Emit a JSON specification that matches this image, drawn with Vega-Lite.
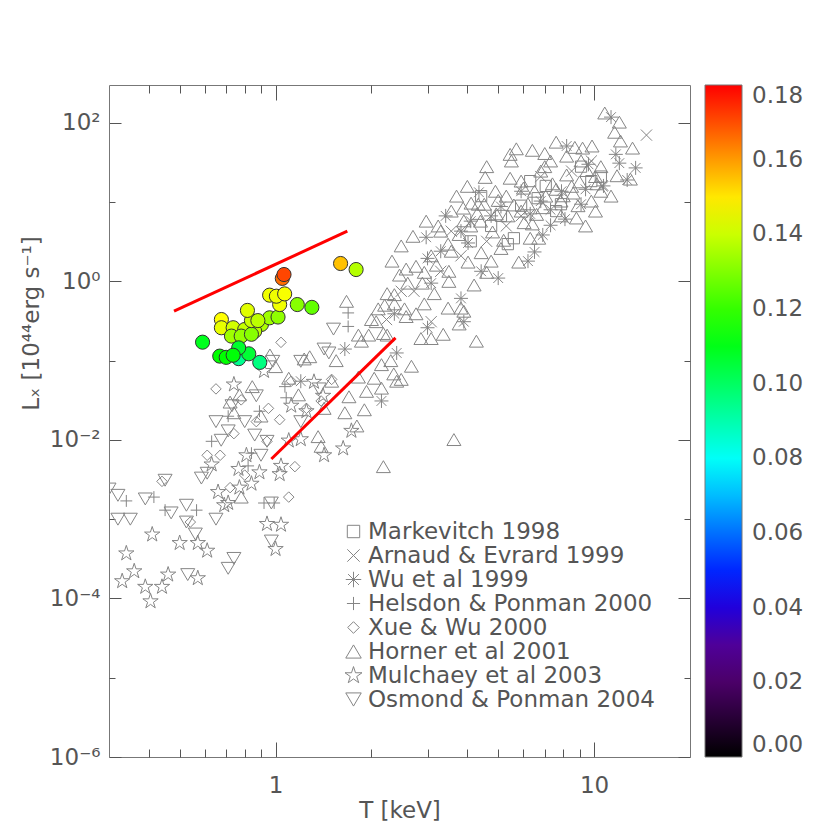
{
  "$schema": "https://vega.github.io/schema/vega-lite/v6.json",
  "padding": {"top": 84, "left": 20, "right": 0, "bottom": 0},
  "width": 581,
  "height": 672,
  "config": {
    "font": "DejaVu Sans",
    "view": {"stroke": null},
    "axis": {"grid": false, "ticks": true, "tickWidth": 1, "labelColor": "#555", "titleColor": "#555", "tickColor": "#555", "domainColor": "#777", "labelFontSize": 23, "titleFontSize": 23, "titleFontWeight": "normal", "labelFlush": false, "labelOverlap": false}
  },
  "datasets": {
    "obs": [
      {"s":"Horner et al 2001","T":10.8,"L":133},{"s":"Horner et al 2001","T":12.0,"L":102},{"s":"Horner et al 2001","T":11.6,"L":76},{"s":"Horner et al 2001","T":13.2,"L":48},{"s":"Horner et al 2001","T":13.0,"L":19.5},{"s":"Horner et al 2001","T":11.8,"L":21.5},{"s":"Horner et al 2001","T":7.6,"L":57},{"s":"Horner et al 2001","T":6.4,"L":45},{"s":"Horner et al 2001","T":7.0,"L":41},{"s":"Horner et al 2001","T":8.7,"L":49},
      {"s":"Horner et al 2001","T":9.2,"L":48},{"s":"Horner et al 2001","T":9.85,"L":51},{"s":"Horner et al 2001","T":5.45,"L":40},{"s":"Horner et al 2001","T":4.55,"L":20.5},{"s":"Horner et al 2001","T":5.45,"L":20},{"s":"Horner et al 2001","T":10.1,"L":7.7},{"s":"Horner et al 2001","T":9.4,"L":5.0},{"s":"Horner et al 2001","T":8.8,"L":6.3},{"s":"Horner et al 2001","T":6.4,"L":5.3},{"s":"Horner et al 2001","T":5.8,"L":1.75},
      {"s":"Horner et al 2001","T":3.56,"L":7.7},{"s":"Horner et al 2001","T":2.32,"L":1.8},{"s":"Horner et al 2001","T":2.57,"L":1.43},{"s":"Horner et al 2001","T":4.27,"L":0.176},{"s":"Horner et al 2001","T":3.08,"L":0.19},{"s":"Horner et al 2001","T":2.86,"L":0.19},{"s":"Horner et al 2001","T":3.36,"L":0.215},{"s":"Horner et al 2001","T":2.76,"L":0.39},{"s":"Horner et al 2001","T":2.93,"L":0.52},{"s":"Horner et al 2001","T":2.24,"L":0.70},
      {"s":"Horner et al 2001","T":2.36,"L":0.68},{"s":"Horner et al 2001","T":2.54,"L":0.45},{"s":"Horner et al 2001","T":2.18,"L":0.22},{"s":"Horner et al 2001","T":2.24,"L":0.21},{"s":"Horner et al 2001","T":2.48,"L":0.058},{"s":"Horner et al 2001","T":2.35,"L":0.068},{"s":"Horner et al 2001","T":2.15,"L":0.089},{"s":"Horner et al 2001","T":3.77,"L":0.29},{"s":"Horner et al 2001","T":3.9,"L":0.42},{"s":"Horner et al 2001","T":3.82,"L":0.46},
      {"s":"Horner et al 2001","T":3.48,"L":0.46},{"s":"Horner et al 2001","T":3.15,"L":0.70},{"s":"Horner et al 2001","T":2.89,"L":0.95},{"s":"Horner et al 2001","T":2.93,"L":1.3},{"s":"Horner et al 2001","T":3.5,"L":1.34},{"s":"Horner et al 2001","T":4.02,"L":1.75},{"s":"Horner et al 2001","T":4.42,"L":2.3},{"s":"Horner et al 2001","T":4.75,"L":1.8},{"s":"Horner et al 2001","T":3.48,"L":2.95},{"s":"Horner et al 2001","T":3.77,"L":3.9},
      {"s":"Horner et al 2001","T":3.88,"L":8.4},{"s":"Horner et al 2001","T":4.11,"L":9.7},{"s":"Horner et al 2001","T":4.33,"L":9.4},{"s":"Horner et al 2001","T":4.52,"L":9.4},{"s":"Horner et al 2001","T":4.93,"L":7.1},{"s":"Horner et al 2001","T":5.36,"L":6.7},{"s":"Horner et al 2001","T":5.9,"L":7.7},{"s":"Horner et al 2001","T":6.03,"L":5.5},{"s":"Horner et al 2001","T":6.3,"L":3.5},{"s":"Horner et al 2001","T":6.7,"L":3.5},
      {"s":"Horner et al 2001","T":6.5,"L":13.7},{"s":"Horner et al 2001","T":7.05,"L":11.9},{"s":"Horner et al 2001","T":7.6,"L":14.5},{"s":"Horner et al 2001","T":7.87,"L":10.3},{"s":"Horner et al 2001","T":8.2,"L":22},{"s":"Horner et al 2001","T":8.5,"L":15.8},{"s":"Horner et al 2001","T":9.8,"L":10.3},{"s":"Horner et al 2001","T":10.5,"L":13.7},{"s":"Horner et al 2001","T":11.3,"L":11.9},{"s":"Horner et al 2001","T":6.8,"L":24.6},
      {"s":"Horner et al 2001","T":5.9,"L":18.4},{"s":"Horner et al 2001","T":5.3,"L":11.9},{"s":"Horner et al 2001","T":4.9,"L":13.7},{"s":"Horner et al 2001","T":4.4,"L":5.75},{"s":"Horner et al 2001","T":4.1,"L":5.0},{"s":"Horner et al 2001","T":3.3,"L":4.3},{"s":"Horner et al 2001","T":3.56,"L":2.4},{"s":"Horner et al 2001","T":3.08,"L":2.1},{"s":"Horner et al 2001","T":2.76,"L":1.55},{"s":"Horner et al 2001","T":2.48,"L":2.8},
      {"s":"Horner et al 2001","T":2.7,"L":3.7},{"s":"Horner et al 2001","T":2.97,"L":5.75},{"s":"Horner et al 2001","T":3.24,"L":5.0},{"s":"Horner et al 2001","T":3.7,"L":11.9},{"s":"Horner et al 2001","T":4.0,"L":15.8},{"s":"Horner et al 2001","T":4.6,"L":28},{"s":"Horner et al 2001","T":5.5,"L":33},{"s":"Horner et al 2001","T":5.7,"L":47},{"s":"Horner et al 2001","T":7.3,"L":33},{"s":"Horner et al 2001","T":8.2,"L":38},
      {"s":"Horner et al 2001","T":9.1,"L":33},{"s":"Horner et al 2001","T":10.5,"L":28},{"s":"Horner et al 2001","T":12.1,"L":59},{"s":"Horner et al 2001","T":10.1,"L":21},{"s":"Horner et al 2001","T":8.6,"L":13},{"s":"Horner et al 2001","T":7.87,"L":6.7},{"s":"Horner et al 2001","T":6.2,"L":9.5},{"s":"Horner et al 2001","T":6.9,"L":8.5},{"s":"Horner et al 2001","T":7.4,"L":17},{"s":"Horner et al 2001","T":8.0,"L":12},
      {"s":"Horner et al 2001","T":9.0,"L":18},{"s":"Horner et al 2001","T":9.5,"L":25},{"s":"Horner et al 2001","T":7.0,"L":28},{"s":"Horner et al 2001","T":8.9,"L":9},{"s":"Horner et al 2001","T":6.0,"L":15},{"s":"Horner et al 2001","T":10.2,"L":17},{"s":"Horner et al 2001","T":6.6,"L":7},{"s":"Horner et al 2001","T":5.6,"L":9.2},{"s":"Horner et al 2001","T":5.0,"L":10.5},{"s":"Horner et al 2001","T":4.3,"L":7.2},
      {"s":"Horner et al 2001","T":3.9,"L":5.8},{"s":"Horner et al 2001","T":4.8,"L":4.2},{"s":"Horner et al 2001","T":5.2,"L":3.3},{"s":"Horner et al 2001","T":3.5,"L":1.0},{"s":"Horner et al 2001","T":3.2,"L":1.6},{"s":"Horner et al 2001","T":2.6,"L":0.95},{"s":"Horner et al 2001","T":2.45,"L":1.2},{"s":"Horner et al 2001","T":2.1,"L":0.45},{"s":"Horner et al 2001","T":2.0,"L":0.33},{"s":"Horner et al 2001","T":4.2,"L":0.9},
      {"s":"Horner et al 2001","T":4.6,"L":1.3},{"s":"Horner et al 2001","T":5.1,"L":2.6},{"s":"Horner et al 2001","T":0.845,"L":0.047},{"s":"Horner et al 2001","T":0.77,"L":0.037},{"s":"Horner et al 2001","T":0.74,"L":0.022},{"s":"Horner et al 2001","T":0.96,"L":0.118},{"s":"Horner et al 2001","T":1.0,"L":0.084},{"s":"Horner et al 2001","T":1.23,"L":0.105},{"s":"Horner et al 2001","T":1.28,"L":0.112},{"s":"Horner et al 2001","T":1.18,"L":0.037},
      {"s":"Horner et al 2001","T":1.42,"L":0.025},{"s":"Horner et al 2001","T":1.9,"L":0.024},{"s":"Horner et al 2001","T":2.18,"L":0.0046},{"s":"Horner et al 2001","T":3.63,"L":0.0101},{"s":"Horner et al 2001","T":0.78,"L":0.0019},{"s":"Horner et al 2001","T":1.36,"L":0.011},{"s":"Horner et al 2001","T":1.39,"L":0.0083},{"s":"Horner et al 2001","T":1.5,"L":0.055},{"s":"Horner et al 2001","T":1.67,"L":0.56},{"s":"Horner et al 2001","T":1.82,"L":0.21},
      {"s":"Horner et al 2001","T":1.96,"L":0.21},{"s":"Horner et al 2001","T":2.2,"L":0.5},{"s":"Horner et al 2001","T":2.36,"L":0.52},{"s":"Horner et al 2001","T":1.82,"L":0.062},{"s":"Horner et al 2001","T":2.04,"L":0.06},{"s":"Horner et al 2001","T":2.15,"L":0.045},{"s":"Horner et al 2001","T":2.3,"L":0.1},{"s":"Horner et al 2001","T":1.65,"L":0.022},{"s":"Horner et al 2001","T":1.8,"L":0.015},{"s":"Horner et al 2001","T":2.4,"L":0.055},
      {"s":"Horner et al 2001","T":2.67,"L":0.085},{"s":"Horner et al 2001","T":1.93,"L":0.041},{"s":"Horner et al 2001","T":2.57,"L":0.36},{"s":"Horner et al 2001","T":2.07,"L":0.31},{"s":"Horner et al 2001","T":1.86,"L":0.176},{"s":"Horner et al 2001","T":0.72,"L":0.03},{"s":"Horner et al 2001","T":0.9,"L":0.02},{"s":"Horner et al 2001","T":1.1,"L":0.06},{"s":"Horner et al 2001","T":1.55,"L":0.1},{"s":"Horner et al 2001","T":1.7,"L":0.035},
      {"s":"Wu et al 1999","T":11.3,"L":118},{"s":"Wu et al 1999","T":8.2,"L":51},{"s":"Wu et al 1999","T":11.7,"L":40},{"s":"Wu et al 1999","T":12.0,"L":31},{"s":"Wu et al 1999","T":12.7,"L":19},{"s":"Wu et al 1999","T":10.7,"L":16},{"s":"Wu et al 1999","T":4.35,"L":13.3},{"s":"Wu et al 1999","T":3.82,"L":4.3},{"s":"Wu et al 1999","T":4.02,"L":3.05},{"s":"Wu et al 1999","T":5.0,"L":1.1},
      {"s":"Wu et al 1999","T":6.2,"L":1.8},{"s":"Wu et al 1999","T":6.5,"L":2.35},{"s":"Wu et al 1999","T":6.9,"L":3.85},{"s":"Wu et al 1999","T":7.3,"L":5.1},{"s":"Wu et al 1999","T":8.1,"L":6.1},{"s":"Wu et al 1999","T":9.1,"L":9.4},{"s":"Wu et al 1999","T":3.82,"L":0.61},{"s":"Wu et al 1999","T":3.9,"L":0.31},{"s":"Wu et al 1999","T":3.0,"L":1.95},{"s":"Wu et al 1999","T":2.97,"L":3.6},
      {"s":"Wu et al 1999","T":2.4,"L":0.125},{"s":"Wu et al 1999","T":3.0,"L":0.26},{"s":"Wu et al 1999","T":3.08,"L":0.95},{"s":"Wu et al 1999","T":2.36,"L":0.39},{"s":"Wu et al 1999","T":6.8,"L":10.3},{"s":"Wu et al 1999","T":7.3,"L":8},{"s":"Wu et al 1999","T":5.9,"L":13.7},{"s":"Wu et al 1999","T":5.1,"L":8.8},{"s":"Wu et al 1999","T":4.75,"L":6.7},{"s":"Wu et al 1999","T":7.9,"L":13.7},
      {"s":"Wu et al 1999","T":9.4,"L":14.5},{"s":"Wu et al 1999","T":6.3,"L":7.1},{"s":"Wu et al 1999","T":4.1,"L":5.75},{"s":"Wu et al 1999","T":3.42,"L":6.7},{"s":"Wu et al 1999","T":3.3,"L":2.4},{"s":"Wu et al 1999","T":4.42,"L":1.34},{"s":"Wu et al 1999","T":1.65,"L":0.14},{"s":"Wu et al 1999","T":1.2,"L":0.055},{"s":"Wu et al 1999","T":2.15,"L":0.031},{"s":"Wu et al 1999","T":9.6,"L":30},
      {"s":"Wu et al 1999","T":13.5,"L":27},
      {"s":"Markevitch 1998","T":5.6,"L":3.5},{"s":"Markevitch 1998","T":5.36,"L":2.95},{"s":"Markevitch 1998","T":9.1,"L":28},{"s":"Markevitch 1998","T":7.87,"L":9.4},{"s":"Markevitch 1998","T":6.65,"L":11.2},{"s":"Markevitch 1998","T":5.9,"L":9},{"s":"Markevitch 1998","T":7.05,"L":16},{"s":"Markevitch 1998","T":7.6,"L":7.7},{"s":"Markevitch 1998","T":5.1,"L":6.7},{"s":"Markevitch 1998","T":9.8,"L":18.4},
      {"s":"Markevitch 1998","T":4.1,"L":3.2},{"s":"Markevitch 1998","T":4.75,"L":5},{"s":"Markevitch 1998","T":6.3,"L":18.4},{"s":"Markevitch 1998","T":4.42,"L":11.9},{"s":"Markevitch 1998","T":10.5,"L":21},
      {"s":"Arnaud & Evrard 1999","T":14.6,"L":70},{"s":"Arnaud & Evrard 1999","T":10.6,"L":16},{"s":"Arnaud & Evrard 1999","T":3.08,"L":0.31},{"s":"Arnaud & Evrard 1999","T":2.23,"L":0.33},{"s":"Arnaud & Evrard 1999","T":2.48,"L":0.75},{"s":"Arnaud & Evrard 1999","T":6.8,"L":21},{"s":"Arnaud & Evrard 1999","T":8.5,"L":24.6},{"s":"Arnaud & Evrard 1999","T":5.3,"L":5},{"s":"Arnaud & Evrard 1999","T":3.82,"L":2.1},{"s":"Arnaud & Evrard 1999","T":3.56,"L":4.3},
      {"s":"Arnaud & Evrard 1999","T":9.8,"L":33},{"s":"Arnaud & Evrard 1999","T":5.9,"L":6.7},{"s":"Arnaud & Evrard 1999","T":4.6,"L":3.2},{"s":"Arnaud & Evrard 1999","T":3.3,"L":1.34},{"s":"Arnaud & Evrard 1999","T":2.72,"L":0.75},
      {"s":"Helsdon & Ponman 2000","T":0.415,"L":0.0019},{"s":"Helsdon & Ponman 2000","T":0.45,"L":0.0013},{"s":"Helsdon & Ponman 2000","T":0.565,"L":0.0013},{"s":"Helsdon & Ponman 2000","T":0.92,"L":0.0016},{"s":"Helsdon & Ponman 2000","T":0.71,"L":0.0199},{"s":"Helsdon & Ponman 2000","T":1.08,"L":0.034},{"s":"Helsdon & Ponman 2000","T":1.07,"L":0.047},{"s":"Helsdon & Ponman 2000","T":0.84,"L":0.0068},{"s":"Helsdon & Ponman 2000","T":0.82,"L":0.0047},{"s":"Helsdon & Ponman 2000","T":1.69,"L":0.40},
      {"s":"Helsdon & Ponman 2000","T":1.69,"L":0.27},{"s":"Helsdon & Ponman 2000","T":0.99,"L":0.0016},{"s":"Helsdon & Ponman 2000","T":0.63,"L":0.0096},{"s":"Helsdon & Ponman 2000","T":0.89,"L":0.023},{"s":"Helsdon & Ponman 2000","T":0.34,"L":0.0017},
      {"s":"Xue & Wu 2000","T":0.65,"L":0.044},{"s":"Xue & Wu 2000","T":0.44,"L":0.003},{"s":"Xue & Wu 2000","T":0.54,"L":0.00092},{"s":"Xue & Wu 2000","T":1.1,"L":0.0019},{"s":"Xue & Wu 2000","T":1.15,"L":0.0046},{"s":"Xue & Wu 2000","T":0.67,"L":0.0064},{"s":"Xue & Wu 2000","T":0.95,"L":0.025},{"s":"Xue & Wu 2000","T":1.12,"L":0.055},{"s":"Xue & Wu 2000","T":1.25,"L":0.025},{"s":"Xue & Wu 2000","T":1.5,"L":0.058},
      {"s":"Xue & Wu 2000","T":0.78,"L":0.032},{"s":"Xue & Wu 2000","T":0.87,"L":0.017},{"s":"Xue & Wu 2000","T":0.74,"L":0.012},{"s":"Xue & Wu 2000","T":1.03,"L":0.018},{"s":"Xue & Wu 2000","T":0.94,"L":0.0096},{"s":"Xue & Wu 2000","T":0.8,"L":0.0036},{"s":"Xue & Wu 2000","T":0.72,"L":0.0025},{"s":"Xue & Wu 2000","T":1.04,"L":0.17},{"s":"Xue & Wu 2000","T":1.39,"L":0.031},{"s":"Xue & Wu 2000","T":0.61,"L":0.0064},
      {"s":"Mulchaey et al 2003","T":0.34,"L":0.00037},{"s":"Mulchaey et al 2003","T":0.36,"L":0.00022},{"s":"Mulchaey et al 2003","T":0.33,"L":0.000165},{"s":"Mulchaey et al 2003","T":0.39,"L":0.00014},{"s":"Mulchaey et al 2003","T":0.405,"L":0.000092},{"s":"Mulchaey et al 2003","T":0.44,"L":0.00014},{"s":"Mulchaey et al 2003","T":0.46,"L":0.0002},{"s":"Mulchaey et al 2003","T":0.41,"L":0.00064},{"s":"Mulchaey et al 2003","T":0.5,"L":0.0005},{"s":"Mulchaey et al 2003","T":0.57,"L":0.0005},
      {"s":"Mulchaey et al 2003","T":0.61,"L":0.0004},{"s":"Mulchaey et al 2003","T":0.57,"L":0.00018},{"s":"Mulchaey et al 2003","T":0.765,"L":0.0043},{"s":"Mulchaey et al 2003","T":0.77,"L":0.0025},{"s":"Mulchaey et al 2003","T":0.66,"L":0.0022},{"s":"Mulchaey et al 2003","T":0.71,"L":0.0016},{"s":"Mulchaey et al 2003","T":0.84,"L":0.0028},{"s":"Mulchaey et al 2003","T":0.94,"L":0.00087},{"s":"Mulchaey et al 2003","T":1.04,"L":0.00085},{"s":"Mulchaey et al 2003","T":1.0,"L":0.00042},
      {"s":"Mulchaey et al 2003","T":1.03,"L":0.0037},{"s":"Mulchaey et al 2003","T":1.2,"L":0.0102},{"s":"Mulchaey et al 2003","T":1.42,"L":0.0064},{"s":"Mulchaey et al 2003","T":1.63,"L":0.0078},{"s":"Mulchaey et al 2003","T":0.63,"L":0.0049},{"s":"Mulchaey et al 2003","T":0.69,"L":0.0015},{"s":"Mulchaey et al 2003","T":1.1,"L":0.0098},{"s":"Mulchaey et al 2003","T":1.25,"L":0.023},{"s":"Mulchaey et al 2003","T":1.32,"L":0.054},{"s":"Mulchaey et al 2003","T":1.12,"L":0.027},
      {"s":"Mulchaey et al 2003","T":0.89,"L":0.0039},{"s":"Mulchaey et al 2003","T":1.04,"L":0.0047},{"s":"Mulchaey et al 2003","T":0.81,"L":0.0064},{"s":"Mulchaey et al 2003","T":1.73,"L":0.013},{"s":"Mulchaey et al 2003","T":1.41,"L":0.036},{"s":"Mulchaey et al 2003","T":0.92,"L":0.074},{"s":"Mulchaey et al 2003","T":0.74,"L":0.05},
      {"s":"Osmond & Ponman 2004","T":0.3,"L":0.0024},{"s":"Osmond & Ponman 2004","T":0.32,"L":0.002},{"s":"Osmond & Ponman 2004","T":0.39,"L":0.0018},{"s":"Osmond & Ponman 2004","T":0.32,"L":0.001},{"s":"Osmond & Ponman 2004","T":0.35,"L":0.001},{"s":"Osmond & Ponman 2004","T":0.47,"L":0.0012},{"s":"Osmond & Ponman 2004","T":0.525,"L":0.0015},{"s":"Osmond & Ponman 2004","T":0.525,"L":0.00092},{"s":"Osmond & Ponman 2004","T":0.56,"L":0.00065},{"s":"Osmond & Ponman 2004","T":0.65,"L":0.001},
      {"s":"Osmond & Ponman 2004","T":0.71,"L":0.00024},{"s":"Osmond & Ponman 2004","T":0.74,"L":0.00032},{"s":"Osmond & Ponman 2004","T":0.53,"L":0.0002},{"s":"Osmond & Ponman 2004","T":0.97,"L":0.00053},{"s":"Osmond & Ponman 2004","T":0.97,"L":0.0016},{"s":"Osmond & Ponman 2004","T":0.585,"L":0.0033},{"s":"Osmond & Ponman 2004","T":0.61,"L":0.0038},{"s":"Osmond & Ponman 2004","T":0.675,"L":0.0099},{"s":"Osmond & Ponman 2004","T":0.71,"L":0.013},{"s":"Osmond & Ponman 2004","T":0.94,"L":0.0096},
      {"s":"Osmond & Ponman 2004","T":1.47,"L":0.125},{"s":"Osmond & Ponman 2004","T":1.2,"L":0.098},{"s":"Osmond & Ponman 2004","T":0.98,"L":0.098},{"s":"Osmond & Ponman 2004","T":0.73,"L":0.027},{"s":"Osmond & Ponman 2004","T":0.65,"L":0.017},{"s":"Osmond & Ponman 2004","T":0.8,"L":0.017},{"s":"Osmond & Ponman 2004","T":0.87,"L":0.036},{"s":"Osmond & Ponman 2004","T":1.2,"L":0.017},{"s":"Osmond & Ponman 2004","T":1.37,"L":0.044},{"s":"Osmond & Ponman 2004","T":1.52,"L":0.25},
      {"s":"Osmond & Ponman 2004","T":1.42,"L":0.14},{"s":"Osmond & Ponman 2004","T":0.86,"L":0.0115},{"s":"Osmond & Ponman 2004","T":0.45,"L":0.0031},{"s":"Osmond & Ponman 2004","T":0.9,"L":0.0064}
    ],
    "sim": [
      {"T":0.59,"L":0.171,"z":0.109},
      {"T":0.676,"L":0.33,"z":0.147},{"T":0.676,"L":0.26,"z":0.144},{"T":0.736,"L":0.26,"z":0.141},{"T":0.8,"L":0.247,"z":0.139},{"T":0.903,"L":0.286,"z":0.136},{"T":0.958,"L":0.347,"z":0.134},{"T":1.018,"L":0.355,"z":0.132},{"T":0.86,"L":0.235,"z":0.138},{"T":0.727,"L":0.204,"z":0.134},{"T":0.78,"L":0.204,"z":0.133},{"T":0.84,"L":0.215,"z":0.131},{"T":0.84,"L":0.32,"z":0.140},{"T":0.88,"L":0.32,"z":0.138},
      {"T":0.816,"L":0.43,"z":0.143},{"T":1.30,"L":0.47,"z":0.126},{"T":1.17,"L":0.51,"z":0.131},{"T":1.03,"L":0.51,"z":0.145},{"T":0.958,"L":0.67,"z":0.145},{"T":1.006,"L":0.65,"z":0.145},{"T":1.068,"L":0.695,"z":0.146},
      {"T":0.766,"L":0.106,"z":0.094},{"T":0.892,"L":0.095,"z":0.096},{"T":0.824,"L":0.122,"z":0.106},{"T":0.766,"L":0.145,"z":0.107},{"T":0.668,"L":0.114,"z":0.113},{"T":0.70,"L":0.11,"z":0.113},{"T":0.736,"L":0.117,"z":0.112},
      {"T":1.79,"L":1.41,"z":0.137},{"T":1.6,"L":1.68,"z":0.155},{"T":1.05,"L":1.09,"z":0.166},{"T":1.063,"L":1.22,"z":0.171}
    ],
    "lines": [
      {"g":"a","T":0.48,"L":0.42},{"g":"a","T":1.68,"L":4.3},
      {"g":"b","T":0.97,"L":0.00575},{"g":"b","T":2.38,"L":0.194}
    ]
  },
  "resolve": {"axis": {"x": "independent", "y": "independent"}},
  "layer": [
    {
      "data": {"name": "obs"},
      "mark": {"type": "point", "filled": false, "stroke": "#858585", "strokeWidth": 1, "size": 196, "opacity": 1, "clip": true},
      "encoding": {
        "x": {"field": "T", "type": "quantitative", "scale": {"type": "log", "domain": [0.3, 20], "nice": false},
              "axis": {"orient": "bottom", "values": [1, 10], "format": "~g", "tickSize": -15, "labelPadding": 32, "title": "T [keV]", "titlePadding": 2}},
        "y": {"field": "L", "type": "quantitative", "scale": {"type": "log", "domain": [0.000001, 300], "nice": false},
              "axis": {"orient": "left", "values": [0.000001, 0.0001, 0.01, 1, 100], "tickSize": -12, "labelPadding": 21, "title": "Lₓ [10⁴⁴erg s⁻¹]", "titlePadding": 6, "titleY": 238,
                       "labelExpr": "datum.value >= 50 ? '10²' : datum.value >= 0.5 ? '10⁰' : datum.value >= 0.005 ? '10⁻²' : datum.value >= 0.00005 ? '10⁻⁴' : '10⁻⁶'"}},
        "shape": {"field": "s", "type": "nominal",
                  "scale": {"domain": ["Markevitch 1998", "Arnaud & Evrard 1999", "Wu et al 1999", "Helsdon & Ponman 2000", "Xue & Wu 2000", "Horner et al 2001", "Mulchaey et al 2003", "Osmond & Ponman 2004"],
                            "range": ["M-0.8,-0.8L0.8,-0.8L0.8,0.8L-0.8,0.8Z", "M-0.8,-0.8L0.8,0.8M-0.8,0.8L0.8,-0.8", "M-1,0L1,0M0,-1L0,1M-0.7,-0.7L0.7,0.7M-0.7,0.7L0.7,-0.7", "M-0.85,0L0.85,0M0,-0.85L0,0.85", "M0,-0.75L0.75,0L0,0.75L-0.75,0Z", "M0,-0.85L1,0.85L-1,0.85Z", "M0,-1.15L0.256,-0.353L1.094,-0.355L0.415,0.135L0.676,0.93L0,0.437L-0.676,0.93L-0.415,0.135L-1.094,-0.355L-0.256,-0.353Z", "M-1,-0.85L1,-0.85L0,0.85Z"]},
                  "legend": {"orient": "none", "legendX": 233, "legendY": 435, "title": null, "labelFontSize": 23, "labelColor": "#555", "labelLimit": 0, "symbolStrokeColor": "#858585", "symbolFillColor": "transparent", "symbolStrokeWidth": 1, "symbolSize": 240, "rowPadding": -0.8, "labelOffset": 3, "padding": 0}}
      }
    },
    {
      "data": {"name": "sim"},
      "mark": {"type": "point", "shape": "circle", "filled": true, "size": 200, "stroke": "#333", "strokeWidth": 1, "opacity": 1},
      "encoding": {
        "x": {"field": "T", "type": "quantitative", "scale": {"type": "log", "domain": [0.3, 20], "nice": false},
              "axis": {"orient": "bottom", "values": [0.4, 0.5, 0.6, 0.7, 0.8, 0.9, 2, 3, 4, 5, 6, 7, 8, 9], "tickSize": -8, "labels": false, "domain": false, "title": null}},
        "y": {"field": "L", "type": "quantitative", "scale": {"type": "log", "domain": [0.000001, 300], "nice": false},
              "axis": {"orient": "left", "values": [0.00001, 0.001, 0.1, 10], "tickSize": -6, "labels": false, "domain": false, "title": null}},
        "fill": {"field": "z", "type": "quantitative",
                 "scale": {"domain": [0, 0.02, 0.033, 0.045, 0.079, 0.113, 0.147, 0.18], "range": ["#000000", "#4b0068", "#5000a8", "#0000ff", "#00ffff", "#00ff00", "#ffff00", "#ff0000"], "interpolate": "rgb"},
                 "legend": {"type": "gradient", "orient": "right", "direction": "vertical", "offset": 14, "title": null, "gradientLength": 672, "gradientThickness": 37, "values": [0, 0.02, 0.04, 0.06, 0.08, 0.1, 0.12, 0.14, 0.16, 0.18], "format": ".2f", "labelFontSize": 23, "labelColor": "#555", "labelOffset": 10, "gradientStrokeColor": "#777", "gradientStrokeWidth": 1, "labelOverlap": false}}
      }
    },
    {
      "data": {"name": "lines"},
      "mark": {"type": "line", "color": "#ff0000", "strokeWidth": 3},
      "encoding": {
        "x": {"field": "T", "type": "quantitative", "scale": {"type": "log", "domain": [0.3, 20], "nice": false},
              "axis": {"orient": "top", "values": [1, 10], "tickSize": -15, "labels": false, "title": null}},
        "y": {"field": "L", "type": "quantitative", "scale": {"type": "log", "domain": [0.000001, 300], "nice": false},
              "axis": {"orient": "right", "values": [0.000001, 0.0001, 0.01, 1, 100], "tickSize": -12, "labels": false, "title": null}},
        "detail": {"field": "g", "type": "nominal"}
      }
    },
    {
      "data": {"name": "lines"},
      "mark": {"type": "line", "opacity": 0},
      "encoding": {
        "x": {"field": "T", "type": "quantitative", "scale": {"type": "log", "domain": [0.3, 20], "nice": false},
              "axis": {"orient": "top", "values": [0.4, 0.5, 0.6, 0.7, 0.8, 0.9, 2, 3, 4, 5, 6, 7, 8, 9], "tickSize": -8, "labels": false, "domain": false, "title": null}},
        "y": {"field": "L", "type": "quantitative", "scale": {"type": "log", "domain": [0.000001, 300], "nice": false},
              "axis": {"orient": "right", "values": [0.00001, 0.001, 0.1, 10], "tickSize": -6, "labels": false, "domain": false, "title": null}},
        "detail": {"field": "g", "type": "nominal"}
      }
    }
  ]
}
